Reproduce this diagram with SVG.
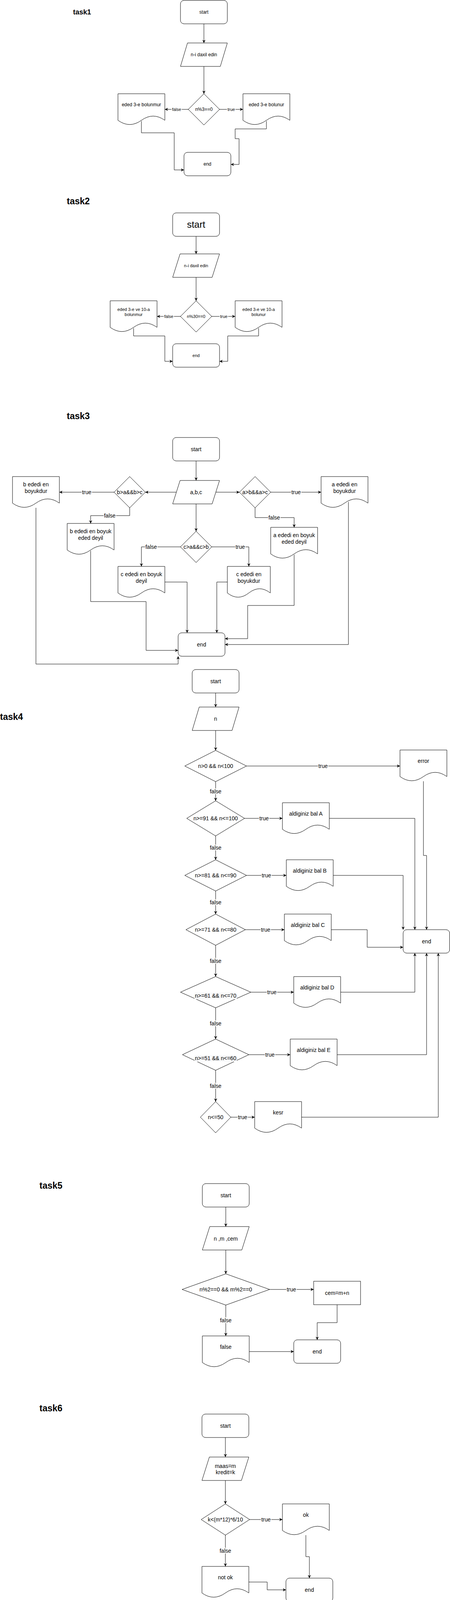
<svg xmlns="http://www.w3.org/2000/svg" width="1152" height="4771" viewBox="0 0 1152 4771">
<defs>
<marker id="arr" viewBox="0 0 10 10" refX="10" refY="5" markerUnits="userSpaceOnUse" markerWidth="8" markerHeight="8" orient="auto">
<path d="M0,0 L10,5 L0,10 L3,5 z" fill="#000"/>
</marker>
<style>
.n{fill:#fff;stroke:#000;stroke-width:1}
.e path{fill:none;stroke:#000;stroke-width:1;marker-end:url(#arr)}
text{font-family:"Liberation Sans",Arial,Helvetica,sans-serif;fill:#000;text-anchor:middle}
.h{font-weight:bold;font-size:23px;text-anchor:start}
.s11{font-size:11px}.s12{font-size:12px}.s14{font-size:14px}.s24{font-size:24px}
.lbl{paint-order:stroke;stroke:#fff;stroke-width:4px;stroke-linejoin:round}
.tbg{fill:#f8f9fa;stroke:none}
</style>
</defs>
<rect width="1152" height="4771" fill="#fff"/>

<!-- ================= TASK 1 ================= -->
<g id="t1-title"><text x="187" y="37" class="h" style="font-size:18px">task1</text></g>
<g id="t1-start"><rect class="n" x="462" y="1" width="120" height="60" rx="9"/><text x="522" y="35" class="s12">start</text></g>
<g id="t1-input"><polygon class="n" points="480,110 582,110 564,170 462,170"/><text x="522" y="144" class="s12">n-i daxil edin</text></g>
<g id="t1-cond"><polygon class="n" points="522,240 562,280 522,320 482,280"/><text x="522" y="284" class="s12">n%3==0</text></g>
<g id="t1-no"><path class="n" d="M302,240H422V308Q392,286.4 362,308Q332,329.6 302,308Z"/><text x="362" y="272" class="s12">eded 3-e bolunmur</text></g>
<g id="t1-yes"><path class="n" d="M622,240H742V308Q712,286.4 682,308Q652,329.6 622,308Z"/><text x="682" y="272" class="s12">eded 3-e bolunur</text></g>
<g id="t1-end"><rect class="n" x="471" y="390" width="120" height="60" rx="9"/><text x="531" y="424" class="s12">end</text></g>

<!-- ================= TASK 2 ================= -->
<g id="t2-title"><text x="171" y="523" class="h">task2</text></g>
<g id="t2-start"><rect class="n" x="442" y="545" width="120" height="60" rx="9"/><text x="502" y="583" class="s24">start</text></g>
<g id="t2-input"><polygon class="n" points="461,650 562,650 543,710 442,710"/><text x="502" y="684" class="s11">n-i daxil edin</text></g>
<g id="t2-cond"><polygon class="n" points="502,770 542,810 502,850 462,810"/><text x="502" y="814" class="s11">n%30==0</text></g>
<g id="t2-no"><path class="n" d="M282,770H402V838Q372,816.4 342,838Q312,859.6 282,838Z"/><text x="342" y="795.5" class="s11">eded 3-e ve 10-a</text><text x="342" y="808.5" class="s11">bolunmur</text></g>
<g id="t2-yes"><path class="n" d="M602,770H722V838Q692,816.4 662,838Q632,859.6 602,838Z"/><text x="662" y="795.5" class="s11">eded 3-e ve 10-a</text><text x="662" y="808.5" class="s11">bolunur</text></g>
<g id="t2-end"><rect class="n" x="442" y="880" width="120" height="60" rx="9"/><text x="502" y="914" class="s11">end</text></g>

<!-- ================= TASK 3 ================= -->
<g id="t3-title"><text x="171" y="1073" class="h">task3</text></g>
<g id="t3-start"><rect class="n" x="442" y="1120" width="120" height="60" rx="9"/><text x="502" y="1155" class="s14">start</text></g>
<g id="t3-input"><polygon class="n" points="461,1230 562,1230 543,1290 442,1290"/><text x="502" y="1265" class="s14">a,b,c</text></g>
<g id="t3-condb"><polygon class="n" points="332,1220 372,1260 332,1300 292,1260"/><text x="332" y="1265" class="s14">b&gt;a&amp;&amp;b&gt;c</text></g>
<g id="t3-conda"><polygon class="n" points="653,1220 693,1260 653,1300 613,1260"/><text x="653" y="1265" class="s14">a&gt;b&amp;&amp;a&gt;c</text></g>
<g id="t3-condc"><polygon class="n" points="502,1360 542,1400 502,1440 462,1400"/><text x="502" y="1405" class="s14">c&gt;a&amp;&amp;c&gt;b</text></g>
<g id="t3-byes"><path class="n" d="M32,1220H152V1288Q122,1266.4 92,1288Q62,1309.6 32,1288Z"/><text x="92" y="1244.5" class="s14">b ededi en</text><text x="92" y="1261.5" class="s14">boyukdur</text></g>
<g id="t3-ayes"><path class="n" d="M822,1220H942V1288Q912,1266.4 882,1288Q852,1309.6 822,1288Z"/><text x="882" y="1244.5" class="s14">a ededi en</text><text x="882" y="1261.5" class="s14">boyukdur</text></g>
<g id="t3-bnot"><path class="n" d="M172,1340H292V1408Q262,1386.4 232,1408Q202,1429.6 172,1408Z"/><text x="232" y="1364.5" class="s14">b ededi en boyuk</text><text x="232" y="1381.5" class="s14">eded deyil</text></g>
<g id="t3-anot"><path class="n" d="M693,1350H813V1418Q783,1396.4 753,1418Q723,1439.6 693,1418Z"/><text x="753" y="1374.5" class="s14">a ededi en boyuk</text><text x="753" y="1391.5" class="s14">eded deyil</text></g>
<g id="t3-cnot"><path class="n" d="M302,1450H422V1518Q392,1496.4 362,1518Q332,1539.6 302,1518Z"/><text x="362" y="1474.5" class="s14">c ededi en boyuk</text><text x="362" y="1491.5" class="s14">deyil</text></g>
<g id="t3-cyes"><path class="n" d="M582,1450H692V1518Q664.5,1496.4 637,1518Q609.5,1539.6 582,1518Z"/><text x="637" y="1474.5" class="s14">c ededi en</text><text x="637" y="1491.5" class="s14">boyukdur</text></g>
<g id="t3-end"><rect class="n" x="456" y="1620" width="120" height="60" rx="9"/><text x="516" y="1655" class="s14">end</text></g>

<!-- ================= TASK 4 ================= -->
<g id="t4-title"><text x="0" y="1843" class="h">task4</text></g>
<g id="t4-start"><rect class="n" x="492" y="1714" width="120" height="60" rx="9"/><text x="552" y="1749" class="s14">start</text></g>
<g id="t4-input"><polygon class="n" points="510,1810 612,1810 594,1870 492,1870"/><text x="552" y="1845" class="s14">n</text></g>
<g id="t4-d1"><polygon class="n" points="552,1921 631,1961 552,2001 473,1961"/><text x="552" y="1966" class="s14">n&gt;0 &amp;&amp; n&lt;100</text></g>
<g id="t4-error"><path class="n" d="M1024,1920H1144V1988Q1114,1966.4 1084,1988Q1054,2009.6 1024,1988Z"/><text x="1084" y="1953" class="s14">error</text></g>
<g id="t4-d2"><polygon class="n" points="552,2050 626,2095 552,2140 478,2095"/><text x="552" y="2100" class="s14">n&gt;=91 &amp;&amp; n&lt;=100</text></g>
<g id="t4-a"><path class="n" d="M723,2055H843V2123Q813,2101.4 783,2123Q753,2144.6 723,2123Z"/><text x="783" y="2088" class="s14">aldiginiz bal A</text></g>
<g id="t4-d3"><polygon class="n" points="552,2201 631,2241 552,2281 473,2241"/><text x="552" y="2246" class="s14">n&gt;=81 &amp;&amp; n&lt;=90</text></g>
<g id="t4-b"><path class="n" d="M733,2201H853V2269Q823,2247.4 793,2269Q763,2290.6 733,2269Z"/><text x="793" y="2234" class="s14">aldiginiz bal B</text></g>
<g id="t4-d4"><polygon class="n" points="552,2340 628,2380 552,2420 476,2380"/><text x="552" y="2385" class="s14">n&gt;=71 &amp;&amp; n&lt;=80</text></g>
<g id="t4-c"><path class="n" d="M728,2340H848V2408Q818,2386.4 788,2408Q758,2429.6 728,2408Z"/><text x="788" y="2373" class="s14">aldiginiz bal C</text></g>
<g id="t4-end"><rect class="n" x="1032" y="2380" width="119" height="60" rx="9"/><text x="1092" y="2415" class="s14">end</text></g>
<g id="t4-d5"><polygon class="n" points="552,2500 642,2540 552,2580 462,2540"/><rect class="tbg" x="498" y="2541" width="108" height="17"/><text x="552" y="2554" class="s14">n&gt;=61 &amp;&amp; n&lt;=70</text></g>
<g id="t4-d"><path class="n" d="M752,2500H872V2568Q842,2546.4 812,2568Q782,2589.6 752,2568Z"/><text x="812" y="2533" class="s14">aldiginiz bal D</text></g>
<g id="t4-d6"><polygon class="n" points="552,2660 637,2700 552,2740 467,2700"/><rect class="tbg" x="498" y="2701" width="108" height="17"/><text x="552" y="2714" class="s14">n&gt;=51 &amp;&amp; n&lt;=60</text></g>
<g id="t4-e"><path class="n" d="M743,2660H863V2728Q833,2706.4 803,2728Q773,2749.6 743,2728Z"/><text x="803" y="2693" class="s14">aldiginiz bal E</text></g>
<g id="t4-d7"><polygon class="n" points="552,2820 591,2860 552,2900 513,2860"/><text x="552" y="2865" class="s14">n&lt;=50</text></g>
<g id="t4-kesr"><path class="n" d="M652,2820H772V2888Q742,2866.4 712,2888Q682,2909.6 652,2888Z"/><text x="712" y="2853" class="s14">kesr</text></g>

<!-- ================= TASK 5 ================= -->
<g id="t5-title"><text x="101" y="3043" class="h">task5</text></g>
<g id="t5-start"><rect class="n" x="518" y="3030" width="120" height="60" rx="9"/><text x="578" y="3065" class="s14">start</text></g>
<g id="t5-input"><polygon class="n" points="537,3140 638,3140 619,3200 518,3200"/><text x="578" y="3176" class="s14">n ,m ,cem</text></g>
<g id="t5-cond"><polygon class="n" points="578,3261 690,3301 578,3341 466,3301"/><text x="578" y="3306" class="s14">n%2==0 &amp;&amp; m%2==0</text></g>
<g id="t5-sum"><rect class="n" x="803" y="3280" width="120" height="60"/><text x="863" y="3315" class="s14">cem=m+n</text></g>
<g id="t5-false"><path class="n" d="M518,3420H638V3488Q608,3466.4 578,3488Q548,3509.6 518,3488Z"/><text x="578" y="3453" class="s14">false</text></g>
<g id="t5-end"><rect class="n" x="752" y="3430" width="120" height="60" rx="9"/><text x="812" y="3465" class="s14">end</text></g>

<!-- ================= TASK 6 (a) ================= -->
<g id="t6a-title"><text x="101" y="3613" class="h">task6</text></g>
<g id="t6a-start"><rect class="n" x="517" y="3620" width="120" height="60" rx="9"/><text x="577" y="3655" class="s14">start</text></g>
<g id="t6a-input"><polygon class="n" points="536,3730 637,3730 618,3790 517,3790"/><text x="577" y="3758" class="s14">maas=m</text><text x="577" y="3774" class="s14">kredit=k</text></g>
<g id="t6a-cond"><polygon class="n" points="577,3850 639,3890 577,3930 515,3890"/><text x="577" y="3895" class="s14">k&lt;(m*12)*6/10</text></g>
<g id="t6a-ok"><path class="n" d="M723,3850H843V3918Q813,3896.4 783,3918Q753,3939.6 723,3918Z"/><text x="783" y="3883" class="s14">ok</text></g>
<g id="t6a-notok"><path class="n" d="M517,4010H637V4078Q607,4056.4 577,4078Q547,4099.6 517,4078Z"/><text x="577" y="4043" class="s14">not ok</text></g>
<g id="t6a-end"><rect class="n" x="732" y="4040" width="120" height="60" rx="9"/><text x="792" y="4075" class="s14">end</text></g>

<!-- ================= TASK 6 (b) ================= -->
<g id="t6b-title"><text x="101" y="4153" class="h">task6</text></g>
<g id="t6b-start"><rect class="n" x="503" y="4140" width="120" height="60" rx="9"/><text x="563" y="4175" class="s14">start</text></g>
<g id="t6b-input"><polygon class="n" points="521,4250 623,4250 605,4310 503,4310"/><text x="563" y="4285" class="s14">ab</text></g>
<g id="t6b-cond"><polygon class="n" points="783,4230 842,4270 783,4310 724,4270"/><text x="783" y="4267" class="s14">ab&lt;10</text><text x="783" y="4284" class="s14">&amp;&amp; ab&gt;100</text></g>
<g id="t6b-invalid"><path class="n" d="M923,4230H1043V4298Q1013,4276.4 983,4298Q953,4319.6 923,4298Z"/><text x="983" y="4263" class="s14">input invalid</text></g>
<g id="t6b-calc"><rect class="n" x="454" y="4390" width="218" height="90"/><text x="563" y="4432" class="s14">onluq=(ab-(ab%10))/10</text><text x="563" y="4449" class="s14">teklik= ab%10</text></g>
<g id="t6b-cond2"><polygon class="n" points="563,4530 632,4570 563,4610 494,4570"/><text x="563" y="4575" class="s14">onluq&gt;teklik</text></g>
<g id="t6b-onluq"><path class="n" d="M723,4530H843V4598Q813,4576.4 783,4598Q753,4619.6 723,4598Z"/><text x="783" y="4563" class="s14">onluqlar boyukdur</text></g>
<g id="t6b-teklik"><path class="n" d="M503,4690H623V4758Q593,4736.4 563,4758Q533,4779.6 503,4758Z"/><text x="563" y="4723" class="s14">teklikler boyukdur</text></g>
<g id="t6b-end"><rect class="n" x="973" y="4520" width="120" height="60" rx="9"/><text x="1033" y="4555" class="s14">end</text></g>

<!-- ================= CONNECTORS ================= -->
<g id="connectors" class="e">
<path d="M522,61V110"/>
<path d="M522,170V240"/>
<path d="M482,280H422"/>
<path d="M562,280H622"/>
<path d="M362,310V340H446V435H471"/>
<path d="M682,310V330H602V355H612V421H591"/>

<path d="M502,605V650"/>
<path d="M502,710V770"/>
<path d="M462,810H402"/>
<path d="M542,810H602"/>
<path d="M342,840V860H422V925H442"/>
<path d="M662,840V860H583V925H562"/>

<path d="M502,1180V1230"/>
<path d="M451,1260H372"/>
<path d="M553,1260H613"/>
<path d="M292,1260H152"/>
<path d="M693,1260H822"/>
<path d="M332,1300V1320H232V1340"/>
<path d="M653,1300V1325H753V1350"/>
<path d="M502,1290V1360"/>
<path d="M462,1400H362V1450"/>
<path d="M542,1400H637V1450"/>
<path d="M422,1490H479V1620"/>
<path d="M582,1490H555V1620"/>
<path d="M232,1410V1540H374V1665H456"/>
<path d="M753,1420V1550H634V1635H576"/>
<path d="M892,1285V1650H576"/>
<path d="M92,1300V1700H456V1680"/>

<path d="M552,1774V1810"/>
<path d="M552,1870V1921"/>
<path d="M631,1961H1024"/>
<path d="M552,2001V2050"/>
<path d="M626,2095H723"/>
<path d="M843,2095H1062V2380"/>
<path d="M552,2140V2201"/>
<path d="M631,2241H733"/>
<path d="M853,2241H1032V2380"/>
<path d="M1084,2000V2190H1092V2380"/>
<path d="M552,2281V2340"/>
<path d="M628,2380H728"/>
<path d="M848,2380H940V2425H1032"/>
<path d="M552,2420V2500"/>
<path d="M642,2540H752"/>
<path d="M872,2540H1062V2440"/>
<path d="M552,2580V2660"/>
<path d="M637,2700H743"/>
<path d="M863,2700H1092V2440"/>
<path d="M552,2740V2820"/>
<path d="M591,2860H652"/>
<path d="M772,2860H1122V2440"/>

<path d="M578,3090V3140"/>
<path d="M578,3200V3261"/>
<path d="M690,3301H803"/>
<path d="M863,3340V3386H812V3430"/>
<path d="M578,3341V3420"/>
<path d="M638,3460H752"/>

<path d="M577,3680V3730"/>
<path d="M577,3790V3850"/>
<path d="M639,3890H723"/>
<path d="M783,3930V3985H792V4040"/>
<path d="M577,3930V4010"/>
<path d="M637,4050H684V4070H732"/>

<path d="M563,4200V4250"/>
<path d="M614,4280H672V4270H724"/>
<path d="M842,4270H923"/>
<path d="M983,4310V4415H1033V4520"/>
<path d="M783,4310V4350H571V4390"/>
<path d="M563,4480V4530"/>
<path d="M632,4570H723"/>
<path d="M843,4570H908V4558H973"/>
<path d="M563,4610V4690"/>
<path d="M623,4730H1033V4580"/>
</g>

<g id="edge-labels">
<text x="452" y="284" class="s11 lbl">false</text>
<text x="592" y="284" class="s11 lbl">true</text>
<text x="432" y="814" class="s11 lbl">false</text>
<text x="573" y="814" class="s11 lbl">true</text>
<text x="222" y="1265" class="s14 lbl">true</text>
<text x="758" y="1265" class="s14 lbl">true</text>
<text x="281" y="1325" class="s14 lbl">false</text>
<text x="702" y="1330" class="s14 lbl">false</text>
<text x="387" y="1405" class="s14 lbl">false</text>
<text x="615" y="1405" class="s14 lbl">true</text>
<text x="827" y="1966" class="s14 lbl">true</text>
<text x="552" y="2031" class="s14 lbl">false</text>
<text x="676" y="2100" class="s14 lbl">true</text>
<text x="552" y="2175" class="s14 lbl">false</text>
<text x="682" y="2246" class="s14 lbl">true</text>
<text x="552" y="2315" class="s14 lbl">false</text>
<text x="680" y="2385" class="s14 lbl">true</text>
<text x="552" y="2465" class="s14 lbl">false</text>
<text x="696" y="2545" class="s14 lbl">true</text>
<text x="552" y="2625" class="s14 lbl">false</text>
<text x="691" y="2705" class="s14 lbl">true</text>
<text x="552" y="2785" class="s14 lbl">false</text>
<text x="621" y="2865" class="s14 lbl">true</text>
<text x="746" y="3306" class="s14 lbl">true</text>
<text x="578" y="3385" class="s14 lbl">false</text>
<text x="681" y="3895" class="s14 lbl">true</text>
<text x="577" y="3975" class="s14 lbl">false</text>
<text x="672" y="4285" class="s14 lbl">true</text>
<text x="703" y="4355" class="s14 lbl">false</text>
<text x="678" y="4575" class="s14 lbl">true</text>
<text x="563" y="4655" class="s14 lbl">false</text>
</g>
</svg>
